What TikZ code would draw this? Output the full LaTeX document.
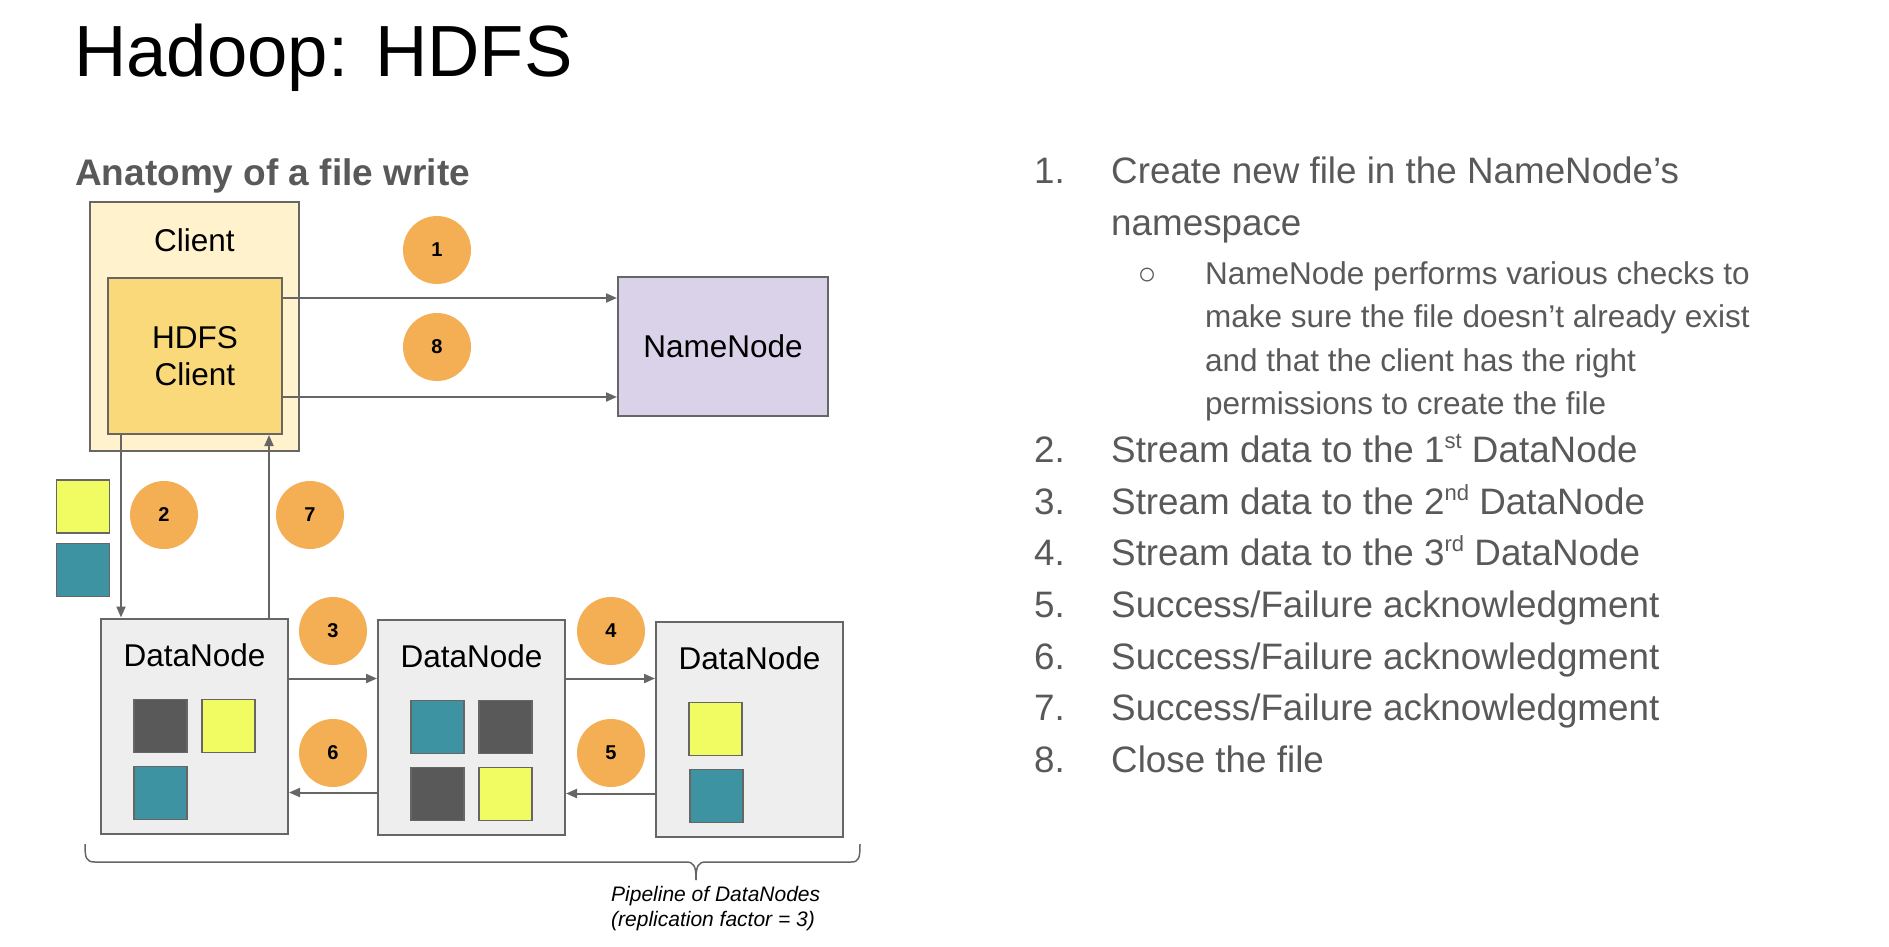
\documentclass[tikz,border=0pt]{standalone}
\usepackage{fontspec}
\setmainfont{Liberation Sans}
\usepackage{xcolor}
\usetikzlibrary{arrows.meta}
\usetikzlibrary{positioning}

\definecolor{clientbg}{HTML}{FFF2CC}
\definecolor{hdfsbg}{HTML}{FAD97A}
\definecolor{namebg}{HTML}{D9D2E9}
\definecolor{databg}{HTML}{EEEEEE}
\definecolor{edgegray}{HTML}{666666}
\definecolor{steporange}{HTML}{F4AE54}
\definecolor{blkdark}{HTML}{595959}
\definecolor{blkyellow}{HTML}{F1FB62}
\definecolor{blkteal}{HTML}{3E93A3}
\definecolor{txtgray}{HTML}{595959}

\newcommand{\ordsup}[1]{\raisebox{0.36em}{\fontsize{22}{24}\selectfont #1}}

\tikzset{
  box/.style={draw=edgegray, line width=2pt, inner sep=0pt},
  lbl/.style={font=\fontsize{31.5}{37}\selectfont},
  blk/.style={draw=edgegray, line width=1.5pt, minimum size=53pt, inner sep=0pt},
  stepnum/.style={circle, fill=steporange, minimum size=68pt, inner sep=0pt,
    font=\fontsize{20}{24}\selectfont\bfseries},
  arr/.style={draw=edgegray, line width=2pt, -{Triangle[length=11pt,width=9pt]}},
  numtxt/.style={anchor=base west, inner sep=0pt, text=txtgray, font=\fontsize{36.8}{44}\selectfont},
  itemtxt/.style={anchor=base west, inner sep=0pt, text=txtgray, font=\fontsize{36.8}{44}\selectfont},
  subtxt/.style={anchor=base west, inner sep=0pt, text=txtgray, font=\fontsize{31.5}{38}\selectfont},
}

\begin{document}
\begin{tikzpicture}[x=1pt,y=-1pt]
\useasboundingbox (0,0) rectangle (1889,947);

% headings
\node[anchor=base west, inner sep=0pt, font=\fontsize{72.5}{80}\selectfont] (title) at (74,77) {Hadoop: HDFS};
\node[anchor=base west, inner sep=0pt, text=txtgray, font=\fontsize{37}{44}\selectfont\bfseries] (anat) at (75,185) {Anatomy of a file write};

% client side
\node[box, fill=clientbg, minimum width=209pt, minimum height=249pt] (client) at (194.5,326.5) {};
\node[lbl, anchor=base, inner sep=0pt] (clientlbl) at (194.5,251) {Client};
\node[box, lbl, fill=hdfsbg, minimum width=174pt, minimum height=156pt, align=center] (hdfs) at (195,356) {HDFS\\Client};
\node[box, lbl, fill=namebg, minimum width=210pt, minimum height=139pt] (nn) at (723,346.5) {NameNode};

% datanodes
\node[box, fill=databg, minimum width=187pt, minimum height=215pt] (dn1) at (194.5,726) {};
\node[box, fill=databg, minimum width=187pt, minimum height=215pt, right=88pt of dn1, yshift=-1pt] (dn2) {};
\node[box, fill=databg, minimum width=187pt, minimum height=215pt, right=89pt of dn2, yshift=-2pt] (dn3) {};
\node[lbl, anchor=base, inner sep=0pt] (dn1lbl) at ([yshift=-49pt]dn1.north) {DataNode};
\node[lbl, anchor=base, inner sep=0pt] (dn2lbl) at ([yshift=-49pt]dn2.north) {DataNode};
\node[lbl, anchor=base, inner sep=0pt] (dn3lbl) at ([yshift=-49pt]dn3.north) {DataNode};

% blocks
\node[blk, fill=blkyellow] (bya) at (83,506.5) {};
\node[blk, fill=blkteal] (bta) at (83,570) {};
\node[blk, fill=blkdark] (b1a) at ([xshift=-34pt]dn1.center) {};
\node[blk, fill=blkyellow] (b1b) at ([xshift=34pt]dn1.center) {};
\node[blk, fill=blkteal] (b1c) at ([shift={(-34pt,-67pt)}]dn1.center) {};
\node[blk, fill=blkteal] (b2a) at ([xshift=-34pt]dn2.center) {};
\node[blk, fill=blkdark] (b2b) at ([xshift=34pt]dn2.center) {};
\node[blk, fill=blkdark] (b2c) at ([shift={(-34pt,-67pt)}]dn2.center) {};
\node[blk, fill=blkyellow] (b2d) at ([shift={(34pt,-67pt)}]dn2.center) {};
\node[blk, fill=blkyellow] (b3a) at ([xshift=-34pt]dn3.center) {};
\node[blk, fill=blkteal] (b3b) at ([shift={(-33pt,-67pt)}]dn3.center) {};

% arrows
\coordinate (o1) at ([yshift=-21pt]hdfs.north east);
\coordinate (o8) at ([yshift=38pt]hdfs.south east);
\draw[arr] (o1) -- (o1 -| nn.west);
\draw[arr] (o8) -- (o8 -| nn.west);
\coordinate (o2) at ([xshift=14pt]hdfs.south west);
\draw[arr] (o2) -- (o2 |- dn1.north);
\coordinate (o7) at ([xshift=-14pt]hdfs.south east);
\draw[arr] (o7 |- dn1.north) -- (o7);
\coordinate (o3) at ([yshift=-61pt]dn1.north east);
\draw[arr] (o3) -- (o3 -| dn2.west);
\coordinate (o4) at ([yshift=-60pt]dn2.north east);
\draw[arr] (o4) -- (o4 -| dn3.west);
\coordinate (o5) at ([yshift=-175pt]dn2.north east);
\draw[arr] (o5 -| dn3.west) -- (o5);
\coordinate (o6) at ([yshift=-175pt]dn1.north east);
\draw[arr] (o6 -| dn2.west) -- (o6);

% step numbers
\node[stepnum] (s1) at (437,250) {1};
\node[stepnum] (s8) at (437,347) {8};
\node[stepnum] (s2) at (164,515) {2};
\node[stepnum] (s7) at (310,515) {7};
\node[stepnum] (s3) at (333,631) {3};
\node[stepnum] (s4) at (611,631) {4};
\node[stepnum] (s6) at (333,753) {6};
\node[stepnum] (s5) at (611,753) {5};

% pipeline brace
\draw[edgegray, line width=1.5pt] (85,844) .. controls (85,858) and (86,862) .. (95,862) -- (686,862)
  .. controls (694,862) and (696,866) .. (696,880);
\draw[edgegray, line width=1.5pt] (696,880) .. controls (696,866) and (698,862) .. (706,862) -- (851,862)
  .. controls (859,862) and (860,858) .. (860,844);
\node[anchor=base west, inner sep=0pt, align=left, font=\fontsize{21}{24.5}\selectfont\itshape] (pipe) at (611,926)
  {Pipeline of DataNodes\\(replication factor = 3)};

% steps list
\node[numtxt] (n1) at (1034,183) {1.};
\node[itemtxt] (t1) at (1111,183) {Create new file in the NameNode’s};
\node[itemtxt] (t1b) at (1111,235) {namespace};
\node[subtxt, anchor=base] (bul) at (1147,284) {○};
\node[subtxt] (u1) at (1205,284) {NameNode performs various checks to};
\node[subtxt] (u2) at (1205,327.5) {make sure the file doesn’t already exist};
\node[subtxt] (u3) at (1205,371) {and that the client has the right};
\node[subtxt] (u4) at (1205,414.5) {permissions to create the file};
\node[numtxt] (n2) at (1034,462) {2.};
\node[itemtxt] (t2) at (1111,462) {Stream data to the 1\ordsup{st} DataNode};
\node[numtxt] (n3) at (1034,514) {3.};
\node[itemtxt] (t3) at (1111,514) {Stream data to the 2\ordsup{nd} DataNode};
\node[numtxt] (n4) at (1034,565) {4.};
\node[itemtxt] (t4) at (1111,565) {Stream data to the 3\ordsup{rd} DataNode};
\node[numtxt] (n5) at (1034,617) {5.};
\node[itemtxt] (t5) at (1111,617) {Success/Failure acknowledgment};
\node[numtxt] (n6) at (1034,669) {6.};
\node[itemtxt] (t6) at (1111,669) {Success/Failure acknowledgment};
\node[numtxt] (n7) at (1034,720) {7.};
\node[itemtxt] (t7) at (1111,720) {Success/Failure acknowledgment};
\node[numtxt] (n8) at (1034,772) {8.};
\node[itemtxt] (t8) at (1111,772) {Close the file};
\end{tikzpicture}
\end{document}
